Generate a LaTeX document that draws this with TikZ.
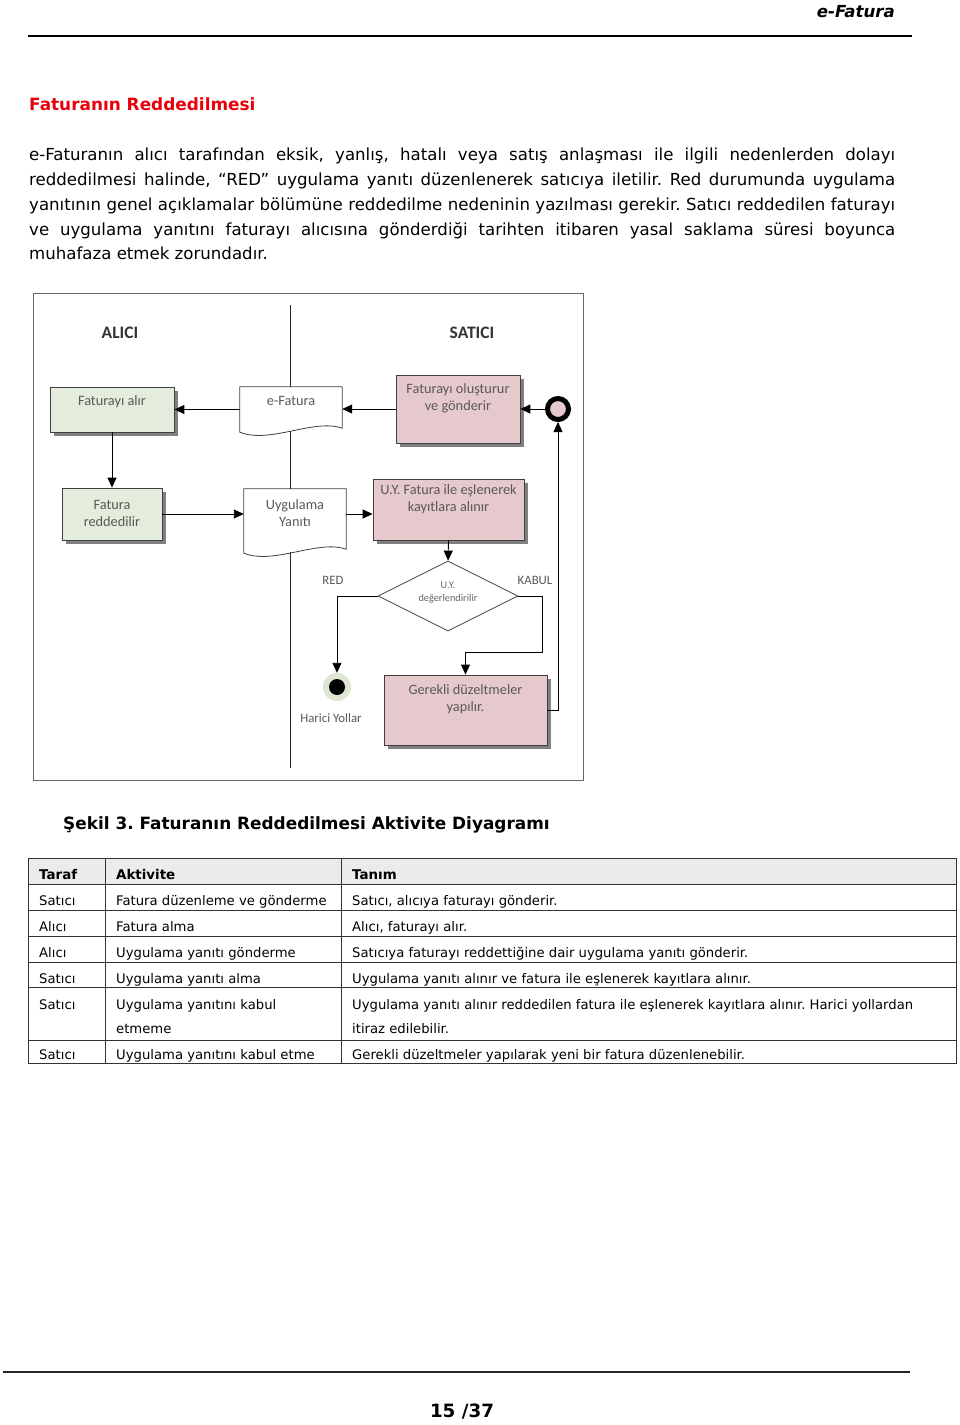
\documentclass[tikz,border=0pt]{standalone}
\usepackage{fontspec}
\setmainfont{DejaVu Sans}
\newfontfamily\calfont{Carlito}
\usetikzlibrary{arrows.meta,shapes.geometric,shadows}
\definecolor{grnfill}{HTML}{E4EDDB}
\definecolor{pnkfill}{HTML}{E6C9CC}
\definecolor{halo}{HTML}{DCE6D2}
\definecolor{titlered}{HTML}{E8000B}
\frenchspacing
\newcommand\bx[4]{\parbox[c][#2][t]{#1}{\centering\rule{0pt}{#3}#4\par}}
\newcommand\docpath[1]{(#1.north west) -- (#1.north east) -- ([yshift=8pt]#1.south east) .. controls ([xshift=-28pt,yshift=18pt]#1.south east) and ([xshift=30pt,yshift=-8pt]#1.south west) .. ([yshift=4pt]#1.south west) -- cycle}
\begin{document}
\begin{tikzpicture}[x=1pt,y=-1pt,
  arr/.style={draw=black,line width=0.9pt,-{Triangle[length=10pt,width=9pt]}},
  laneline/.style={draw=black!85,line width=0.9pt},
  act/.style={draw=black!75,line width=0.8pt,inner sep=0pt,text=black!65,
    font=\calfont\fontsize{14.3}{17}\selectfont,
    drop shadow={shadow xshift=4pt,shadow yshift=-4pt,fill=black!50,opacity=1}},
  grn/.style={act,fill=grnfill},
  pnk/.style={act,fill=pnkfill},
  docn/.style={inner sep=0pt,text=black!65,font=\calfont\fontsize{14.3}{17}\selectfont},
  docline/.style={draw=black!75,line width=0.8pt},
  dec/.style={diamond,aspect=2,draw=black!75,line width=0.8pt,fill=white,minimum width=140pt,minimum height=70pt,inner sep=0pt,text=black!60,font=\calfont\fontsize{10.3}{13}\selectfont},
  startn/.style={circle,draw=black,line width=5pt,fill=pnkfill,minimum size=21pt,inner sep=0pt},
  endn/.style={circle,fill=halo,minimum size=28pt,inner sep=0pt,
    path picture={\fill[black] (path picture bounding box.center) circle[radius=8pt];}},
  lbl/.style={inner sep=0pt,text=black!65,font=\calfont\fontsize{12.8}{15}\selectfont},
  lanelbl/.style={inner sep=0pt,text=black!80,font=\calfont\bfseries\fontsize{17.5}{20}\selectfont},
  para/.style={inner sep=0pt,anchor=base west,font=\fontsize{16.6}{20}\selectfont},
  tcell/.style={inner sep=0pt,anchor=base west,font=\fontsize{13.2}{16}\selectfont},
  thead/.style={inner sep=0pt,anchor=base west,font=\bfseries\fontsize{13.4}{16}\selectfont},
  grid/.style={draw=black!80,line width=0.9pt}
]
\useasboundingbox (0,0) rectangle (960,1425);
\fill[white] (0,0) rectangle (960,1425);

% page header
\node[inner sep=0pt,anchor=base east,font=\bfseries\itshape\fontsize{16.6}{20}\selectfont] (hdr) at (895,17) {e-Fatura};
\draw[line width=2pt,black] (28,36) -- (912,36);

% title and paragraph
\node[inner sep=0pt,anchor=base west,text=titlered,font=\bfseries\fontsize{16.9}{20}\selectfont] (title) at (29,110) {Faturanın Reddedilmesi};
\node[para] (p1) at (29,160) {\makebox[866pt][s]{e-Faturanın alıcı tarafından eksik, yanlış, hatalı veya satış anlaşması ile ilgili nedenlerden dolayı}};
\node[para] (p2) at (29,185) {\makebox[866pt][s]{reddedilmesi halinde, “RED” uygulama yanıtı düzenlenerek satıcıya iletilir. Red durumunda uygulama}};
\node[para] (p3) at (29,210) {\makebox[866pt][s]{yanıtının genel açıklamalar bölümüne reddedilme nedeninin yazılması gerekir. Satıcı reddedilen faturayı}};
\node[para] (p4) at (29,235) {\makebox[866pt][s]{ve uygulama yanıtını faturayı alıcısına gönderdiği tarihten itibaren yasal saklama süresi boyunca}};
\node[para] (p5) at (29,259.5) {muhafaza etmek zorundadır.};

% diagram frame
\draw[draw=black!60,line width=1pt] (33,293) rectangle (583,780);
\coordinate (lt) at (290,305);
\coordinate (lb) at (290,768);
\coordinate (kr) at (542,652);

\node[lanelbl] (alici) at (120,333) {ALICI};
\node[lanelbl] (satici) at (472,333) {SATICI};

\node[grn] (alir) at (112,409.5) {\bx{124pt}{45pt}{18pt}{Faturayı alır}};
\node[docn] (efat) at (291,411.5) {\bx{102pt}{49pt}{18pt}{e-Fatura}};
\draw[docline] \docpath{efat};
\node[pnk] (olus) at (458,409) {\bx{124pt}{68pt}{18pt}{Faturayı oluşturur\\ve gönderir}};
\node[startn] (start) at (558,409) {};
\node[grn] (redd) at (112,514) {\bx{100pt}{52pt}{21pt}{Fatura\\reddedilir}};
\node[docn] (uy) at (295,523) {\bx{102pt}{68pt}{20pt}{Uygulama\\Yanıtı}};
\draw[docline] \docpath{uy};
\node[pnk] (uyf) at (448.5,509.5) {\bx{151pt}{61pt}{15pt}{U.Y. Fatura ile eşlenerek\\kayıtlara alınır}};
\node[dec] (dia) at (448,596) {\bx{60pt}{30pt}{7pt}{U.Y.\\değerlendirilir}};
\node[endn] (endc) at (337,687) {};
\node[pnk] (ger) at (465.5,710) {\bx{163pt}{70pt}{19pt}{Gerekli düzeltmeler\\yapılır.}};

\node[lbl] (red) at (333,580) {RED};
\node[lbl] (kabul) at (535,580) {KABUL};
\node[lbl] (harici) at (331,718) {Harici Yollar};

% lane divider
\coordinate (e1) at ([yshift=5pt]efat.south);
\coordinate (u1) at ([yshift=5pt]uy.south);
\draw[laneline] (lt) -- (lt |- efat.north);
\draw[laneline] (lt |- e1) -- (lt |- uy.north);
\draw[laneline] (lt |- u1) -- (lb);

% connectors
\draw[arr] (start.west) -- (olus.east);
\draw[arr] (olus.west) -- (olus.west -| efat.east);
\draw[arr] (efat.west |- alir.east) -- (alir.east);
\draw[arr] (alir.south) -- (redd.north);
\draw[arr] (redd.east) -- (redd.east -| uy.west);
\draw[arr] (uy.east |- redd.east) -- (uyf.west |- redd.east);
\draw[arr] (uyf.south) -- (dia.north);
\draw[arr] (dia.west) -| (endc.north);
\draw[arr] (dia.east) -| (kr) -| (ger.north);
\draw[arr] (ger.east) -| (start.south);

% caption
\node[inner sep=0pt,anchor=base west,font=\bfseries\fontsize{16.9}{20}\selectfont] (cap) at (63,829) {Şekil 3. Faturanın Reddedilmesi Aktivite Diyagramı};

% table
\fill[black!8] (28,858) rectangle (956,884);
\draw[grid] (28,858) rectangle (956,1063);
\foreach \yy in {884,910,936,962,987,1040} \draw[grid] (28,\yy) -- (956,\yy);
\draw[grid] (105,858) -- (105,1063);
\draw[grid] (341,858) -- (341,1063);

\node[thead] (h1) at (39,879) {Taraf};
\node[thead] (h2) at (116,879) {Aktivite};
\node[thead] (h3) at (352,879) {Tanım};

\node[tcell] (a1) at (39,905) {Satıcı};
\node[tcell] (b1) at (116,905) {Fatura düzenleme ve gönderme};
\node[tcell] (c1) at (352,905) {Satıcı, alıcıya faturayı gönderir.};
\node[tcell] (a2) at (39,931) {Alıcı};
\node[tcell] (b2) at (116,931) {Fatura alma};
\node[tcell] (c2) at (352,931) {Alıcı, faturayı alır.};
\node[tcell] (a3) at (39,957) {Alıcı};
\node[tcell] (b3) at (116,957) {Uygulama yanıtı gönderme};
\node[tcell] (c3) at (352,957) {Satıcıya faturayı reddettiğine dair uygulama yanıtı gönderir.};
\node[tcell] (a4) at (39,983) {Satıcı};
\node[tcell] (b4) at (116,983) {Uygulama yanıtı alma};
\node[tcell] (c4) at (352,983) {Uygulama yanıtı alınır ve fatura ile eşlenerek kayıtlara alınır.};
\node[tcell] (a5) at (39,1009) {Satıcı};
\node[tcell] (b5) at (116,1009) {Uygulama yanıtını kabul};
\node[tcell] (b5b) at (116,1033) {etmeme};
\node[tcell] (c5) at (352,1009) {Uygulama yanıtı alınır reddedilen fatura ile eşlenerek kayıtlara alınır. Harici yollardan};
\node[tcell] (c5b) at (352,1033) {itiraz edilebilir.};
\node[tcell] (a6) at (39,1059) {Satıcı};
\node[tcell] (b6) at (116,1059) {Uygulama yanıtını kabul etme};
\node[tcell] (c6) at (352,1059) {Gerekli düzeltmeler yapılarak yeni bir fatura düzenlenebilir.};

% footer
\draw[line width=1.5pt,black!85] (3,1372) -- (910,1372);
\node[inner sep=0pt,font=\bfseries\fontsize{18.3}{22}\selectfont] (pg) at (462,1412) {15 /37};
\end{tikzpicture}
\end{document}
